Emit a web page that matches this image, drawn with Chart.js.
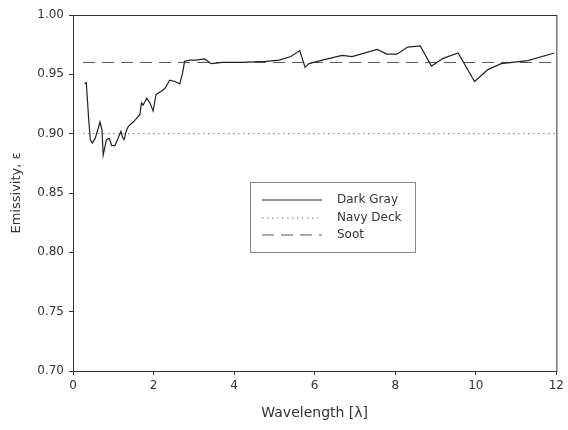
<!DOCTYPE html>
<html>
<head>
<meta charset="utf-8">
<script src="https://cdn.jsdelivr.net/npm/chart.js@4.4.0/dist/chart.umd.min.js"></script>
<style>
  html, body { margin: 0; padding: 0; background: #fff; }
  #wrap { width: 568px; height: 430px; }
</style>
</head>
<body>
<div id="wrap"><canvas id="chart" width="568" height="430"></canvas></div>
<script>
// ---------- DATA ----------
const darkGrayWavelength = [
  0.29, 0.33, 0.39, 0.43, 0.48, 0.55, 0.63, 0.67, 0.72, 0.75, 0.83, 0.90, 0.96,
  1.04, 1.13, 1.19, 1.23, 1.27, 1.32, 1.37, 1.50, 1.66, 1.70, 1.74, 1.83, 1.91,
  1.99, 2.06, 2.16, 2.28, 2.40, 2.53, 2.65, 2.72, 2.77, 2.90, 3.06, 3.27, 3.35,
  3.43, 3.72, 4.21, 4.79, 5.12, 5.41, 5.63, 5.76, 5.86, 6.19, 6.68, 6.93, 7.55,
  7.79, 8.04, 8.31, 8.62, 8.90, 9.19, 9.56, 9.97, 10.30, 10.63, 11.29, 11.95
];
const darkGrayEmissivity = [
  0.942, 0.943, 0.912, 0.895, 0.892, 0.896, 0.905, 0.910, 0.903, 0.882, 0.895, 0.896, 0.890,
  0.890, 0.897, 0.902, 0.897, 0.895, 0.902, 0.906, 0.910, 0.916, 0.926, 0.924, 0.930, 0.926,
  0.919, 0.933, 0.935, 0.938, 0.945, 0.944, 0.942, 0.951, 0.961, 0.962, 0.962, 0.963, 0.961,
  0.959, 0.960, 0.960, 0.961, 0.962, 0.965, 0.970, 0.956, 0.959, 0.962, 0.966, 0.965, 0.971,
  0.967, 0.967, 0.973, 0.974, 0.957, 0.9635, 0.968, 0.944, 0.954, 0.959, 0.9615, 0.968
];
const navyDeckWavelength = [0.25, 12];
const navyDeckEmissivity = [0.90, 0.90];
const sootWavelength = [0.25, 12];
const sootEmissivity = [0.96, 0.96];

const xTicks = [0, 2, 4, 6, 8, 10, 12];
const legendLabels = ["Dark Gray", "Navy Deck", "Soot"];

function toPoints(xs, ys) {
  return xs.map((x, i) => ({ x: x, y: ys[i] }));
}

// ---------- FRAME + LEGEND ----------
const framePlugin = {
  id: "frame",
  afterDatasetsDraw(chart) {
    const { ctx, chartArea: a } = chart;
    ctx.save();
    ctx.strokeStyle = "#333";
    ctx.lineWidth = 1;
    ctx.strokeRect(a.left + 0.5, a.top + 0.5, a.right - a.left, a.bottom - a.top);

    // legend box
    ctx.strokeStyle = "#888";
    ctx.strokeRect(250.5, 182.5, 165, 70);
    ctx.font = "12px 'DejaVu Sans'";
    ctx.fillStyle = "#333";
    ctx.textBaseline = "middle";
    const rows = [200, 218, 235];
    chart.data.datasets.forEach((ds, i) => {
      ctx.beginPath();
      ctx.strokeStyle = ds.borderColor;
      ctx.lineWidth = ds.borderWidth;
      ctx.setLineDash(ds.borderDash || []);
      ctx.moveTo(262, rows[i]);
      ctx.lineTo(322, rows[i]);
      ctx.stroke();
      ctx.setLineDash([]);
      ctx.fillText(legendLabels[i], 337, rows[i]);
    });
    ctx.restore();
  }
};

const ctx = document.getElementById("chart").getContext("2d");
new Chart(ctx, {
  type: "scatter",
  data: {
    datasets: [
      {
        label: legendLabels[0],
        data: toPoints(darkGrayWavelength, darkGrayEmissivity),
        showLine: true,
        borderColor: "#222",
        borderWidth: 1.2,
        pointRadius: 0,
        tension: 0
      },
      {
        label: legendLabels[1],
        data: toPoints(navyDeckWavelength, navyDeckEmissivity),
        showLine: true,
        borderColor: "#777",
        borderWidth: 1,
        borderDash: [1.5, 3.5],
        pointRadius: 0
      },
      {
        label: legendLabels[2],
        data: toPoints(sootWavelength, sootEmissivity),
        showLine: true,
        borderColor: "#555",
        borderWidth: 1,
        borderDash: [12, 7],
        pointRadius: 0
      }
    ]
  },
  options: {
    responsive: false,
    animation: false,
    layout: { padding: { left: 0, top: 15, right: 9, bottom: 0 } },
    plugins: {
      legend: { display: false },
      tooltip: { enabled: false }
    },
    scales: {
      x: {
        type: "linear",
        min: 0,
        max: 12,
        afterBuildTicks: (scale) => { scale.ticks = xTicks.map(v => ({ value: v })); },
        afterFit: (scale) => { scale.height = 59; },
        ticks: { color: "#333", font: { family: "DejaVu Sans", size: 12 }, padding: 4 },
        grid: { display: true, drawOnChartArea: false, drawTicks: true, tickLength: 4, color: "#333" },
        border: { display: true, color: "#333" },
        title: {
          display: true,
          text: "Wavelength [λ]",
          color: "#333",
          font: { family: "DejaVu Sans", size: 14 },
          padding: { top: 0, bottom: 8 }
        }
      },
      y: {
        min: 0.70,
        max: 1.00,
        afterFit: (scale) => { scale.width = 73; },
        ticks: {
          stepSize: 0.05,
          color: "#333",
          font: { family: "DejaVu Sans", size: 12 },
          padding: 5,
          callback: (v) => v.toFixed(2)
        },
        grid: { display: true, drawOnChartArea: false, drawTicks: true, tickLength: 4, color: "#333" },
        border: { display: true, color: "#333" },
        title: {
          display: true,
          text: "Emissivity, ε",
          color: "#333",
          font: { family: "DejaVu Sans", size: 13 },
          padding: { top: 9, bottom: 0 }
        }
      }
    }
  },
  plugins: [framePlugin]
});
</script>
</body>
</html>
